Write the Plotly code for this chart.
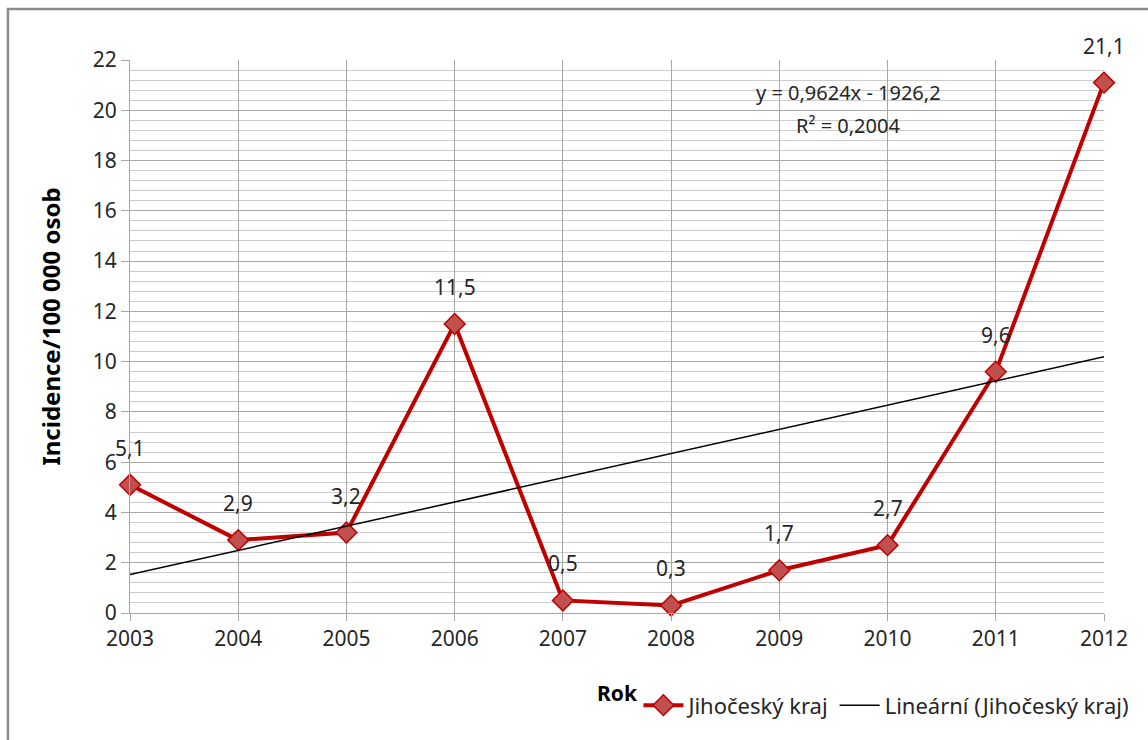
import numpy as np
import plotly.graph_objects as go

# Incidence data for Jihočeský kraj
years = [2003, 2004, 2005, 2006, 2007, 2008, 2009, 2010, 2011, 2012]
incidence = [5.1, 2.9, 3.2, 11.5, 0.5, 0.3, 1.7, 2.7, 9.6, 21.1]
y_ticks = [0, 2, 4, 6, 8, 10, 12, 14, 16, 18, 20, 22]

series_name = "Jihočeský kraj"
trend_name = "Lineární (Jihočeský kraj)"
x_title = "Rok"
y_title = "Incidence/100 000 osob"

FONT = "Noto Sans"
TXT = "#262626"

# Least-squares linear trend
slope, intercept = np.polyfit(years, incidence, 1)
trend_y = [slope * x + intercept for x in years]
ss_res = sum((y - t) ** 2 for y, t in zip(incidence, trend_y))
mean_y = sum(incidence) / len(incidence)
ss_tot = sum((y - mean_y) ** 2 for y in incidence)
r2 = 1 - ss_res / ss_tot


def cz(v, nd):
    return f"{v:.{nd}f}".replace(".", ",")


fig = go.Figure()

fig.add_trace(go.Scatter(
    x=years, y=incidence, name=series_name, mode="lines+markers",
    line=dict(color="#C00000", width=4),
    marker=dict(symbol="diamond", size=16, color="#C0504D",
                line=dict(color="#C00000", width=1.5)),
    cliponaxis=False,
))
fig.add_trace(go.Scatter(
    x=years, y=trend_y, name=trend_name, mode="lines",
    line=dict(color="#000000", width=1.5),
))

annotations = []
for x, v in zip(years, incidence):
    annotations.append(dict(
        x=x, y=v, xref="x", yref="y", text=cz(v, 1), showarrow=False,
        yshift=37, font=dict(family=FONT, size=21, color=TXT),
    ))

sign = "-" if intercept < 0 else "+"
annotations.append(dict(
    x=2009.64, y=20.69, xref="x", yref="y",
    text=f"y = {cz(slope, 4)}x {sign} {cz(abs(intercept), 1)}",
    showarrow=False, font=dict(family=FONT, size=20, color=TXT),
))
annotations.append(dict(
    x=2009.63, y=19.41, xref="x", yref="y",
    text=f"R² = {cz(r2, 4)}",
    showarrow=False, font=dict(family=FONT, size=20, color=TXT),
))
# axis titles
annotations.append(dict(
    x=-0.1006, y=0.517, xref="paper", yref="paper", text=f"<b>{y_title}</b>",
    textangle=-90, showarrow=False,
    font=dict(family=FONT, size=24, color="#000000"),
))
annotations.append(dict(
    x=0.5, y=-0.145, xref="paper", yref="paper", text=f"<b>{x_title}</b>",
    xanchor="center", yanchor="middle", showarrow=False,
    font=dict(family=FONT, size=21, color="#000000"),
))

fig.update_layout(
    width=1148, height=740,
    margin=dict(l=130, r=44, t=60, b=127),
    paper_bgcolor="white", plot_bgcolor="white",
    font=dict(family=FONT, size=21, color=TXT),
    annotations=annotations,
    showlegend=True,
    legend=dict(
        orientation="h", x=0.522, y=-0.167, xanchor="left", yanchor="middle",
        font=dict(family=FONT, size=22, color=TXT),
        itemwidth=40, tracegroupgap=0, bgcolor="rgba(0,0,0,0)",
    ),
    shapes=[dict(
        type="rect", xref="paper", yref="paper",
        x0=-0.1253, x1=1.3, y0=-0.3, y1=1.0922,
        line=dict(color="#8c8c8c", width=2.5), layer="below",
    )],
)

fig.update_xaxes(
    range=[2003, 2012], tickmode="array", tickvals=years,
    ticktext=[str(y) for y in years],
    showgrid=True, gridcolor="#a6a6a6", gridwidth=1,
    showline=True, linecolor="#a6a6a6", linewidth=1,
    ticks="outside", ticklen=7, tickcolor="#a6a6a6",
    tickfont=dict(family=FONT, size=21, color=TXT),
    zeroline=False, fixedrange=True,
)
fig.update_yaxes(
    range=[0, 22], tickmode="array", tickvals=y_ticks,
    showgrid=True, gridcolor="#a6a6a6", gridwidth=1,
    minor=dict(dtick=0.4, tick0=0, showgrid=True, gridcolor="#cccccc", gridwidth=1),
    showline=True, linecolor="#a6a6a6", linewidth=1,
    ticks="outside", ticklen=8, tickcolor="#a6a6a6",
    tickfont=dict(family=FONT, size=21, color=TXT),
    zeroline=False, fixedrange=True,
)

fig.write_html("out.html")
